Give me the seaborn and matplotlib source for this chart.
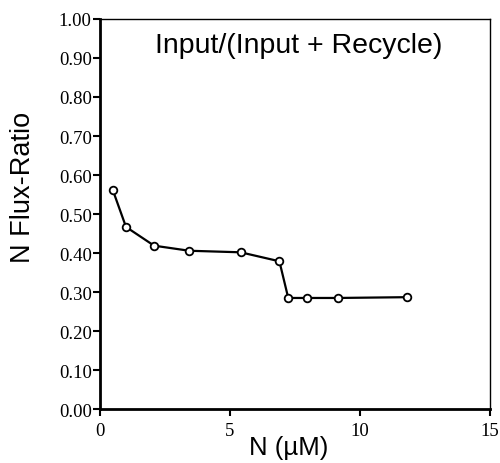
import numpy as np
import pandas as pd
import seaborn as sns
import matplotlib.pyplot as plt

# valores
n_conc = [0.49, 1.0, 2.08, 3.43, 5.41, 6.9, 7.24, 7.96, 9.14, 11.8]
flux_ratio = [0.562, 0.467, 0.419, 0.406, 0.402, 0.379, 0.285, 0.285, 0.285, 0.287]
y_ticks = [0.0, 0.1, 0.2, 0.3, 0.4, 0.5, 0.6, 0.7, 0.8, 0.9, 1.0]
x_ticks = [0, 5, 10, 15]

df = pd.DataFrame({"N": n_conc, "ratio": flux_ratio})

sns.set_style("white")
plt.rcParams["text.color"] = "black"
plt.rcParams["axes.labelcolor"] = "black"
plt.rcParams["xtick.color"] = "black"
plt.rcParams["ytick.color"] = "black"

fig = plt.figure(figsize=(5, 4.64), dpi=100)
ax = fig.add_axes([0.2, 0.116, 0.78, 0.841])

sns.lineplot(data=df, x="N", y="ratio", ax=ax, color="black", linewidth=1.6,
             marker="o", markersize=5.5, markerfacecolor="white",
             markeredgecolor="black", markeredgewidth=1.3)

ax.set_xlim(0, 15)
ax.set_ylim(0, 1.0)
ax.set_xticks(x_ticks)
ax.set_yticks(y_ticks)
ax.set_xticklabels([str(t) for t in x_ticks], family="Liberation Serif", fontsize=13.5)
ax.set_yticklabels([f"{t:.2f}" for t in y_ticks], family="Liberation Serif", fontsize=13.5)
ax.tick_params(axis="both", direction="out", length=5, width=1.5, color="black",
               left=True, bottom=True)
ax.tick_params(axis="x", pad=4)
ax.tick_params(axis="y", pad=1)

for side in ["left", "bottom"]:
    ax.spines[side].set_linewidth(2)
    ax.spines[side].set_color("black")
for side in ["top", "right"]:
    ax.spines[side].set_linewidth(1)
    ax.spines[side].set_color("black")

ax.set_xlabel("N (µM)", family="Liberation Sans", fontsize=18.5)
ax.set_ylabel("N Flux-Ratio", family="Liberation Sans", fontsize=19.5)
ax.xaxis.set_label_coords(0.483, -0.067)
ax.yaxis.set_label_coords(-0.164, 0.57)
ax.text(0.51, 0.932, "Input/(Input + Recycle)", transform=ax.transAxes,
        ha="center", va="center", family="Liberation Sans", fontsize=20.5)

plt.savefig("out.png", dpi=100)
